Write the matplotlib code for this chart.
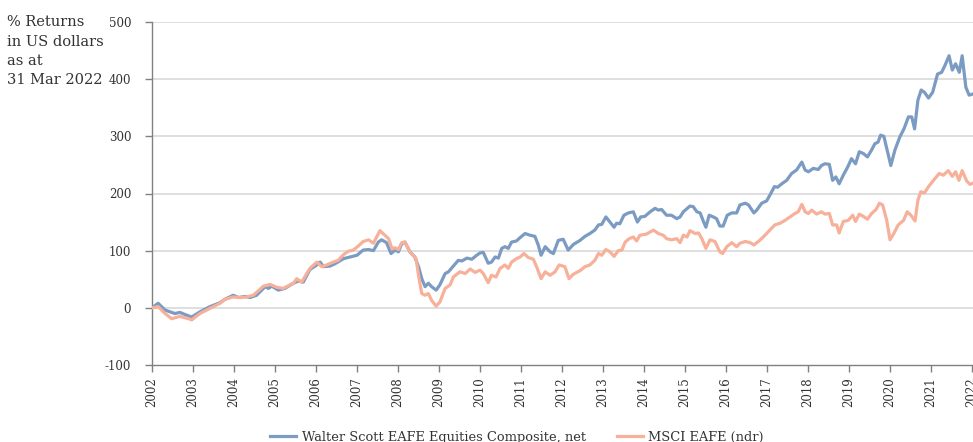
import matplotlib
matplotlib.use("Agg")
import matplotlib.pyplot as plt

ws_years = [2002.00, 2002.15, 2002.32, 2002.56, 2002.68, 2002.85, 2002.97, 2003.17, 2003.41, 2003.66,
            2003.78, 2003.98, 2004.11, 2004.27, 2004.39, 2004.55, 2004.76, 2004.84, 2004.92, 2005.08,
            2005.24, 2005.45, 2005.57, 2005.69, 2005.85, 2006.00, 2006.10, 2006.18, 2006.34, 2006.46,
            2006.67, 2006.83, 2007.00, 2007.15, 2007.28, 2007.40, 2007.52, 2007.60, 2007.72, 2007.83,
            2007.93, 2008.01, 2008.09, 2008.17, 2008.29, 2008.41, 2008.50, 2008.58, 2008.66, 2008.74,
            2008.82, 2008.93, 2009.02, 2009.15, 2009.23, 2009.35, 2009.47, 2009.56, 2009.68, 2009.80,
            2009.92, 2010.00, 2010.08, 2010.20, 2010.28, 2010.37, 2010.45, 2010.53, 2010.61, 2010.69,
            2010.77, 2010.89, 2010.98, 2011.10, 2011.22, 2011.34, 2011.42, 2011.49, 2011.59, 2011.71,
            2011.79, 2011.91, 2012.03, 2012.15, 2012.28, 2012.44, 2012.56, 2012.68, 2012.80, 2012.89,
            2012.97, 2013.07, 2013.17, 2013.27, 2013.33, 2013.41, 2013.51, 2013.62, 2013.74, 2013.84,
            2013.92, 2014.02, 2014.15, 2014.27, 2014.35, 2014.43, 2014.55, 2014.67, 2014.80, 2014.88,
            2014.96, 2015.12, 2015.20, 2015.29, 2015.37, 2015.45, 2015.51, 2015.59, 2015.69, 2015.77,
            2015.85, 2015.93, 2016.03, 2016.14, 2016.26, 2016.34, 2016.47, 2016.55, 2016.68, 2016.75,
            2016.87, 2016.99, 2017.07, 2017.18, 2017.26, 2017.36, 2017.48, 2017.60, 2017.72, 2017.85,
            2017.93, 2018.01, 2018.13, 2018.25, 2018.33, 2018.41, 2018.52, 2018.60, 2018.68, 2018.76,
            2018.86, 2018.98, 2019.06, 2019.16, 2019.25, 2019.35, 2019.45, 2019.55, 2019.63, 2019.71,
            2019.77, 2019.85, 2019.93, 2020.02, 2020.12, 2020.24, 2020.34, 2020.45, 2020.53, 2020.60,
            2020.68, 2020.76, 2020.84, 2020.94, 2021.04, 2021.16, 2021.26, 2021.34, 2021.44, 2021.52,
            2021.60, 2021.69, 2021.76, 2021.85, 2021.93, 2022.02]
ws_values = [0, 8, -4, -10, -8, -13, -16, -7, 2, 9,
             15, 22, 18, 20, 18, 22, 37, 34, 38, 31,
             34, 43, 47, 45, 67, 74, 80, 72, 73, 77,
             86, 89, 92, 101, 102, 100, 115, 119, 114, 95,
             101, 98, 112, 115, 98, 89, 72, 51, 37, 43,
             37, 31, 40, 60, 63, 73, 83, 82, 87, 85,
             92, 96, 97, 78, 80, 89, 87, 104, 107, 104,
             115, 117, 123, 130, 127, 125, 110, 92, 107, 98,
             95, 118, 120, 101, 111, 118, 125, 130, 136, 145,
             146, 159, 150, 141, 148, 147, 162, 166, 168, 150,
             159, 160, 168, 174, 171, 172, 162, 162, 156, 159,
             168, 178, 177, 168, 166, 151, 141, 162, 159, 156,
             143, 143, 162, 166, 166, 180, 183, 180, 166, 171,
             183, 187, 197, 212, 211, 217, 223, 235, 241, 255,
             241, 238, 244, 242, 249, 252, 251, 223, 229, 217,
             232, 248, 261, 252, 273, 270, 264, 276, 287, 290,
             302, 300, 276, 249, 276, 299, 313, 334, 334, 313,
             363, 381, 377, 367, 377, 409, 412, 424, 441, 416,
             427, 412, 441, 386, 372, 374]

msci_years = [2002.00, 2002.15, 2002.32, 2002.48, 2002.68, 2002.89, 2002.97, 2003.17, 2003.41, 2003.66,
              2003.78, 2003.98, 2004.15, 2004.31, 2004.47, 2004.72, 2004.88, 2005.04, 2005.20, 2005.45,
              2005.53, 2005.65, 2005.85, 2006.02, 2006.14, 2006.26, 2006.42, 2006.54, 2006.67, 2006.79,
              2006.91, 2007.03, 2007.15, 2007.28, 2007.40, 2007.56, 2007.77, 2007.85, 2007.93, 2008.01,
              2008.09, 2008.17, 2008.29, 2008.44, 2008.52, 2008.58, 2008.66, 2008.74, 2008.82, 2008.93,
              2009.02, 2009.15, 2009.27, 2009.35, 2009.51, 2009.64, 2009.76, 2009.88, 2010.00, 2010.08,
              2010.20, 2010.28, 2010.39, 2010.49, 2010.61, 2010.69, 2010.77, 2010.89, 2010.98, 2011.07,
              2011.18, 2011.30, 2011.38, 2011.49, 2011.59, 2011.71, 2011.83, 2011.93, 2012.07, 2012.17,
              2012.28, 2012.44, 2012.56, 2012.68, 2012.80, 2012.89, 2012.97, 2013.07, 2013.17, 2013.27,
              2013.37, 2013.46, 2013.54, 2013.64, 2013.74, 2013.82, 2013.90, 2014.06, 2014.23, 2014.35,
              2014.47, 2014.55, 2014.67, 2014.80, 2014.88, 2014.96, 2015.05, 2015.12, 2015.25, 2015.33,
              2015.41, 2015.51, 2015.61, 2015.73, 2015.85, 2015.92, 2016.02, 2016.14, 2016.26, 2016.34,
              2016.47, 2016.59, 2016.68, 2016.79, 2016.91, 2017.07, 2017.19, 2017.32, 2017.44, 2017.56,
              2017.68, 2017.76, 2017.85, 2017.93, 2018.01, 2018.09, 2018.21, 2018.33, 2018.41, 2018.52,
              2018.60, 2018.70, 2018.76, 2018.86, 2018.98, 2019.09, 2019.16, 2019.25, 2019.35, 2019.45,
              2019.55, 2019.66, 2019.74, 2019.82, 2019.92, 2020.00, 2020.10, 2020.20, 2020.33, 2020.42,
              2020.51, 2020.61, 2020.68, 2020.75, 2020.84, 2020.94, 2021.06, 2021.20, 2021.30, 2021.42,
              2021.52, 2021.60, 2021.68, 2021.76, 2021.87, 2021.95, 2022.02]
msci_values = [0, 2, -10, -19, -15, -19, -21, -10, -1, 8,
               15, 19, 18, 19, 22, 38, 41, 36, 34, 43,
               51, 45, 69, 80, 72, 75, 80, 83, 93, 99,
               101, 108, 116, 119, 113, 135, 121, 104, 105, 102,
               114, 115, 98, 86, 48, 25, 22, 25, 13, 3,
               10, 34, 40, 54, 63, 60, 68, 62, 66, 60,
               44, 57, 54, 69, 75, 69, 80, 86, 89, 95,
               88, 85, 72, 51, 63, 57, 63, 75, 72, 51,
               59, 65, 72, 75, 83, 95, 92, 102, 98, 90,
               100, 101, 115, 121, 124, 117, 127, 129, 136, 130,
               127, 121, 119, 121, 114, 127, 124, 135, 130, 131,
               121, 104, 119, 116, 98, 95, 107, 114, 107, 113,
               116, 114, 110, 116, 124, 136, 145, 148, 153, 159,
               165, 168, 181, 168, 165, 171, 164, 168, 164, 165,
               145, 145, 131, 151, 153, 162, 151, 164, 160, 155,
               165, 172, 183, 180, 153, 119, 131, 145, 153, 168,
               162, 152, 188, 203, 201, 212, 223, 235, 232, 240,
               230, 238, 223, 240, 222, 216, 218]

year_ticks = list(range(2002, 2023))
y_ticks = [-100, 0, 100, 200, 300, 400, 500]
series_labels = ["Walter Scott EAFE Equities Composite, net", "MSCI EAFE (ndr)"]
title_text = "% Returns\nin US dollars\nas at\n31 Mar 2022"

BLUE = "#7b9bc2"
SALMON = "#f7b09a"
SERIF = "DejaVu Serif"
TXT = "#333333"

W, H = 973, 442
fig = plt.figure(figsize=(W / 100, H / 100), dpi=100)

x0_px, x2022_px = 152, 972
px_per_year = (x2022_px - x0_px) / 20.0
xmax = 2022.5
left = x0_px / W
width = (xmax - 2002) * px_per_year / W
bottom = 1 - 365 / H
top = 1 - 22 / H
ax = fig.add_axes([left, bottom, width, top - bottom])

ax.plot(ws_years, ws_values, color=BLUE, lw=2.3, label=series_labels[0], solid_joinstyle="round", zorder=3)
ax.plot(msci_years, msci_values, color=SALMON, lw=2.3, label=series_labels[1], solid_joinstyle="round", zorder=3)

ax.set_xlim(2002, xmax)
ax.set_ylim(-100, 500)
ax.set_yticks(y_ticks)
ax.set_xticks(year_ticks)
ax.set_xticklabels([str(y) for y in year_ticks], rotation=90, fontfamily=SERIF, fontsize=8.5, color=TXT)
ax.set_yticklabels([str(v) for v in y_ticks], fontfamily=SERIF, fontsize=8.5, color=TXT)

for v in y_ticks[1:]:
    ax.axhline(v, color="#d9d9d9", lw=1.2, zorder=1)

for s in ["top", "right"]:
    ax.spines[s].set_visible(False)
for s in ["left", "bottom"]:
    ax.spines[s].set_color("#808080")
    ax.spines[s].set_linewidth(1.0)
ax.tick_params(axis="both", colors="#808080", length=5, width=1.0, labelcolor=TXT)
ax.tick_params(axis="y", pad=10)
ax.tick_params(axis="x", pad=4)

fig.text(7 / W, 1 - 15 / H, title_text, ha="left", va="top", fontfamily=SERIF,
         fontsize=10.5, color=TXT, linespacing=1.5)

fig.legend(loc="center", bbox_to_anchor=(517 / W, 1 - 437 / H), ncol=2, frameon=False,
           prop={"family": SERIF, "size": 9.4}, handlelength=2.0, handletextpad=0.4,
           columnspacing=2.4, labelcolor=TXT)

fig.savefig("out.png", dpi=100)
